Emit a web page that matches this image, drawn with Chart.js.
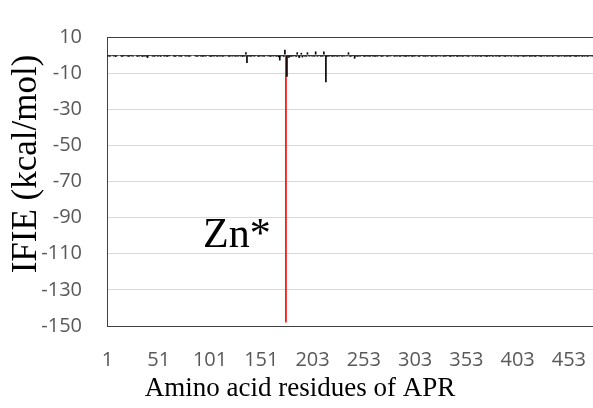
<!DOCTYPE html>
<html>
<head>
<meta charset="utf-8">
<script src="https://cdn.jsdelivr.net/npm/chart.js@4/dist/chart.umd.min.js"></script>
<style>
html,body{margin:0;padding:0;background:#fff;}
#c{display:block;}
</style>
</head>
<body>
<canvas id="c" width="593" height="408"></canvas>
<script>
// Residue labels (category axis), one per bar; "Zn" is the zinc ion
const residues = [
  1,2,3,4,5,6,7,8,9,10,11,12,13,14,15,16,17,18,19,20,21,22,23,24,25,
  26,27,28,29,30,31,32,33,34,35,36,37,38,39,40,41,42,43,44,45,46,47,48,49,50,
  51,52,53,54,55,56,57,58,59,60,61,62,63,64,65,66,67,68,69,70,71,72,73,74,75,
  76,77,78,79,80,81,82,83,84,85,86,87,88,89,90,91,92,93,94,95,96,97,98,99,100,
  101,102,103,104,105,106,107,108,109,110,111,112,113,114,115,116,117,118,119,120,121,122,123,124,125,
  126,127,128,129,130,131,132,133,134,135,136,137,138,139,140,141,142,143,144,145,146,147,148,149,150,
  151,152,153,154,155,156,157,158,159,160,161,162,163,164,165,166,167,168,169,170,171,172,173,174,"Zn",
  178,179,180,181,182,183,184,185,186,187,188,189,190,191,192,193,194,195,196,197,198,199,200,201,202,
  203,204,205,206,207,208,209,210,211,212,213,214,215,216,217,218,219,220,221,222,223,224,225,226,227,
  228,229,230,231,232,233,234,235,236,237,238,239,240,241,242,243,244,245,246,247,248,249,250,251,252,
  253,254,255,256,257,258,259,260,261,262,263,264,265,266,267,268,269,270,271,272,273,274,275,276,277,
  278,279,280,281,282,283,284,285,286,287,288,289,290,291,292,293,294,295,296,297,298,299,300,301,302,
  303,304,305,306,307,308,309,310,311,312,313,314,315,316,317,318,319,320,321,322,323,324,325,326,327,
  328,329,330,331,332,333,334,335,336,337,338,339,340,341,342,343,344,345,346,347,348,349,350,351,352,
  353,354,355,356,357,358,359,360,361,362,363,364,365,366,367,368,369,370,371,372,373,374,375,376,377,
  378,379,380,381,382,383,384,385,386,387,388,389,390,391,392,393,394,395,396,397,398,399,400,401,402,
  403,404,405,406,407,408,409,410,411,412,413,414,415,416,417,418,419,420,421,422,423,424,425,426,427,
  428,429,430,431,432,433,434,435,436,437,438,439,440,441,442,443,444,445,446,447,448,449,450,451,452,
  453,454,455,456,457,458,459,460,461,462,463,464,465,466,467,468,469,470,471,472,473,474,475,476
];

// IFIE values (kcal/mol), one per residue above
const ifie = [
  -0.8,-0.6,-0.9,-0.7,0,-0.5,-0.8,-0.6,-1,-0.7,-0.4,0,0,-0.6,-0.9,-0.8,-0.5,-0.7,0.3,-0.6,-0.8,-0.9,-0.5,-0.7,-0.6,
  -0.8,0,0,-0.6,-0.9,-0.7,-0.8,-0.5,-0.6,-1,-0.7,-0.8,-0.6,-0.9,-1.6,-0.7,-0.5,0,-0.6,-0.8,-0.7,-0.9,-0.5,-0.6,-0.8,
  -0.7,-0.6,-0.9,0,-0.5,-0.8,-0.7,-0.6,-0.9,-0.8,-0.5,-0.7,0,0,-0.6,-0.8,-0.9,-0.7,-0.5,-0.6,-0.8,-0.7,-0.9,-0.6,0,
  -0.5,-0.8,-0.7,-0.6,-0.9,-0.8,-0.7,0,0,0,-0.6,-0.7,-0.9,-0.8,-0.5,-0.6,-0.8,-0.7,-0.9,-0.6,-0.7,-0.8,-0.5,0,-0.6,
  -0.8,-0.9,-0.7,-0.6,-0.8,-0.5,-0.7,-0.9,-0.6,-0.8,-0.7,-0.6,-0.9,-0.8,-0.5,-0.7,0,-0.6,-0.8,-0.9,-0.7,-0.6,-0.8,-0.5,-0.7,
  -0.9,-0.6,-0.8,-0.7,-0.5,-0.8,-0.6,-0.9,-0.7,-0.8,1.5,-4.4,-0.6,-0.8,-0.7,-0.9,-0.5,-0.6,-0.8,-0.7,0,-0.6,-0.9,-0.8,-0.7,
  -0.6,-0.8,-0.7,-0.9,-0.5,0,-0.7,-0.6,-0.8,-0.9,-0.7,-0.6,-0.8,-0.5,-0.7,-0.9,-0.6,-1.2,-3,-0.8,-0.5,-0.7,-1,3,-148,
  -12,-0.8,-1.5,-0.6,-0.9,-0.7,-0.8,-0.5,-0.6,-0.9,1.5,-0.8,-1.6,-0.7,1.2,-1.3,-0.6,-0.8,-0.7,-0.9,1.5,-0.6,-0.8,-0.5,-0.7,
  -0.8,-0.6,-0.9,2,-0.7,-0.8,-0.6,-0.5,-0.9,-0.7,-0.8,2,-0.6,-15,-0.9,-0.7,-0.8,-0.6,-0.5,-0.9,-0.7,-0.8,-0.6,-0.7,-0.9,
  -0.6,-0.8,-0.5,-0.7,-0.9,-0.6,-0.8,0,-0.7,-0.6,1.5,-0.8,-0.9,-0.7,-0.6,-0.5,-2,-0.8,-0.7,-0.9,-0.6,-0.8,-0.7,-0.5,-0.6,
  -0.8,-0.9,-0.7,-0.6,-0.8,-0.7,-0.9,-0.5,-0.6,-0.8,-0.7,-0.9,-0.6,-0.8,-0.7,-0.5,-0.6,-0.9,-0.8,-0.7,-0.6,0,-0.8,-0.9,-0.7,
  -0.6,-0.8,-0.5,0,-0.7,-0.9,-0.6,-0.8,-0.7,-0.6,-0.9,-0.8,-0.5,-0.7,-0.6,-0.8,-0.9,-0.7,-0.6,-0.8,-0.5,-0.7,-0.9,-0.6,-0.8,
  -0.7,-0.6,0,-0.8,-0.9,-0.7,-0.5,-0.6,-0.8,-0.7,-0.9,-0.6,-0.8,-0.7,-0.5,-0.6,-0.9,-0.8,-0.7,-0.6,-0.8,-0.9,-0.5,-0.7,-0.6,
  -0.8,0,-0.7,-0.9,-0.6,-0.8,-0.7,-0.5,-0.6,-0.9,-0.8,-0.7,-0.6,-0.8,-0.5,-0.7,-0.9,-0.6,-0.8,-0.7,-0.6,-0.9,-0.8,-0.5,-0.7,
  -0.6,-0.8,-0.9,-0.7,0,-0.6,-0.8,-0.7,-0.5,-0.9,-0.6,-0.8,-0.7,-0.6,-0.9,-0.8,-0.5,-0.7,-0.6,-0.8,-0.9,-0.7,-0.6,-0.8,-0.5,
  -0.7,-0.9,0,-0.6,-0.8,-0.7,-0.6,-0.9,-0.8,-0.5,-0.7,-0.6,-0.8,-0.9,-0.7,-0.6,-0.8,-0.5,-0.7,-0.9,0,-0.6,-0.8,-0.7,-0.6,
  -0.9,-0.8,-0.5,-0.7,-0.6,-0.8,-0.9,-0.7,-0.6,-0.8,-0.5,-0.7,-0.9,-0.6,-0.8,-0.7,-0.6,-0.9,-0.8,-0.5,-0.7,-0.6,-0.8,-0.9,-0.7,
  -0.6,-0.8,-0.5,-0.7,-0.9,-0.6,-0.8,-0.7,-0.6,-0.9,-0.8,-0.5,-0.7,-0.6,-0.8,-0.9,-0.7,-0.6,-0.8,-0.5,-0.7,-0.9,-0.6,-0.8,-0.7,
  -0.6,-0.9,-0.8,-0.5,-0.7,-0.6,-0.8,-0.9,-0.7,-0.6,-0.8,-0.5,-0.7,-0.9,-0.6,-0.8,-0.7,-0.6,-0.9,-0.8,-0.5,-0.7,-0.6,-0.8
];

// Residue numbers shown on the x axis
const xTickLabels = [1, 51, 101, 151, 203, 253, 303, 353, 403, 453];
// Y axis ticks
const yTickValues = [-150, -130, -110, -90, -70, -50, -30, -10, 10];

const FRAME = '#404040';
const GRID = '#d9d9d9';
const ZERO = '#7f7f7f';
const TICK_COLOR = '#595959';

const textPlugin = {
  id: 'texts',
  afterDraw(chart) {
    const ctx = chart.ctx;
    ctx.save();
    ctx.fillStyle = '#000';
    // y-axis title
    ctx.font = '35px "Liberation Serif"';
    ctx.textAlign = 'center';
    ctx.textBaseline = 'middle';
    ctx.translate(27, 164);
    ctx.rotate(-Math.PI / 2);
    ctx.fillText('IFIE (kcal/mol)', 0, 0);
    ctx.restore();
    ctx.save();
    ctx.fillStyle = '#000';
    ctx.font = '27px "Liberation Serif"';
    ctx.textAlign = 'center';
    ctx.textBaseline = 'alphabetic';
    ctx.fillText('Amino acid residues of APR', 300, 396);
    ctx.font = '42px "Liberation Serif"';
    ctx.textAlign = 'left';
    ctx.fillText('Zn*', 203, 247);
    ctx.restore();
  }
};

new Chart(document.getElementById('c'), {
  type: 'bar',
  data: {
    labels: residues,
    datasets: [{
      data: ifie,
      backgroundColor: (c) => residues[c.dataIndex] === 'Zn' ? '#ff0000' : '#000000',
      barPercentage: 1.6,
      categoryPercentage: 1,
      borderWidth: 0
    }]
  },
  options: {
    responsive: false,
    animation: false,
    layout: { padding: { top: 23, right: 0, left: 0, bottom: 0 } },
    plugins: { legend: { display: false }, tooltip: { enabled: false } },
    scales: {
      x: {
        offset: true,
        grid: { display: false, drawTicks: false },
        border: { display: true, color: FRAME, width: 1 },
        ticks: {
          autoSkip: false,
          maxRotation: 0,
          minRotation: 0,
          padding: 22,
          color: TICK_COLOR,
          font: { family: '"Open Sans"', size: 20 },
          callback: function (value) {
            const l = this.getLabelForValue(value);
            return xTickLabels.includes(l) ? String(l) : '';
          }
        },
        afterFit: (s) => { s.height = 82; s.paddingLeft = 0; s.paddingRight = 0; }
      },
      y: {
        min: -150,
        max: 10,
        afterBuildTicks: (s) => {
          s.ticks = yTickValues.concat([0]).map(v => ({ value: v }));
        },
        grid: {
          drawTicks: false,
          lineWidth: 1,
          color: (c) => c.tick.value === 10 ? FRAME : (c.tick.value === 0 ? ZERO : GRID)
        },
        border: { display: true, color: FRAME, width: 1 },
        ticks: {
          padding: 25,
          color: TICK_COLOR,
          font: { family: '"Open Sans"', size: 20 },
          callback: (v) => v === 0 ? '' : String(v)
        },
        afterFit: (s) => { s.width = 107; }
      }
    }
  },
  plugins: [textPlugin]
});
</script>
</body>
</html>
